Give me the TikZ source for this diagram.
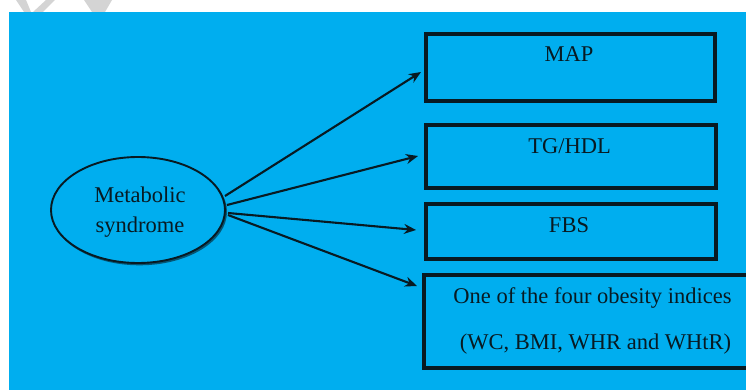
\documentclass[tikz,border=0pt]{standalone}
\usepackage{fontspec}
\setmainfont{Liberation Serif}
\usetikzlibrary{arrows.meta,shapes.geometric}
\definecolor{bgblue}{RGB}{0,174,239}
\definecolor{wmgray}{RGB}{212,212,212}
\definecolor{inkdark}{RGB}{8,26,34}
\begin{document}
\begin{tikzpicture}[x=1pt,y=-1pt,
  boxnode/.style={draw=inkdark,line width=3.6pt,rectangle,inner sep=0pt,anchor=north west},
  lbl/.style={font=\fontsize{22.5}{27}\selectfont,text=inkdark,anchor=base,inner sep=0pt},
  conn/.style={draw=inkdark,line width=2.1pt,-{Stealth[length=12pt,width=10pt]}}]
\useasboundingbox (0,0) rectangle (746,390);
\fill[white] (0,0) rectangle (746,390);
% watermark fragments
\fill[wmgray] (16,0) -- (26,0) -- (31,12) -- (24,12) -- cycle;
\fill[wmgray] (33,12) -- (43,12) -- (55,0) -- (46,0) -- cycle;
\fill[wmgray] (84,0) -- (112,0) -- (105,12) -- (92,12) -- cycle;
% background
\fill[bgblue] (9,12) rectangle (746,390);
% ellipse with shadow
\fill[inkdark,opacity=0.6] (139.5,211.8) ellipse [x radius=87.5,y radius=53.5];
\node[draw=inkdark,fill=bgblue,line width=1.9pt,ellipse,minimum width=174pt,minimum height=106pt,inner sep=0pt] (ms) at (138,210) {};
\node[lbl] (ms1) at (140,202) {Metabolic};
\node[lbl] (ms2) at (140,232) {syndrome};
% boxes
\node[boxnode,minimum width=289pt,minimum height=67pt] (map) at (424,32) {};
\node[boxnode,minimum width=290pt,minimum height=63pt] (tg) at (424,123) {};
\node[boxnode,minimum width=290pt,minimum height=55pt] (fbs) at (424,202) {};
\node[boxnode,minimum width=330pt,minimum height=93pt] (ob) at (422,273) {};
\node[lbl] (mapt) at (569,62) {MAP};
\node[lbl] (tgt) at (569.5,154) {TG/HDL};
\node[lbl] (fbst) at (569,232) {FBS};
\node[lbl] (obt1) at (592.5,303) {One of the four obesity indices};
\node[lbl] (obt2) at (595.5,349) {(WC, BMI, WHR and WHtR)};
% connectors
\coordinate (s1) at (225,196);
\coordinate (s2) at (227,205);
\coordinate (s3) at (228,213);
\coordinate (s4) at (228,215);
\coordinate (e1) at (421,72);
\coordinate (e2) at (418,156);
\coordinate (e3) at (416,230);
\coordinate (e4) at (417,286);
\draw[conn] (s1) -- (e1);
\draw[conn] (s2) -- (e2);
\draw[conn] (s3) -- (e3);
\draw[conn] (s4) -- (e4);
\end{tikzpicture}
\end{document}
